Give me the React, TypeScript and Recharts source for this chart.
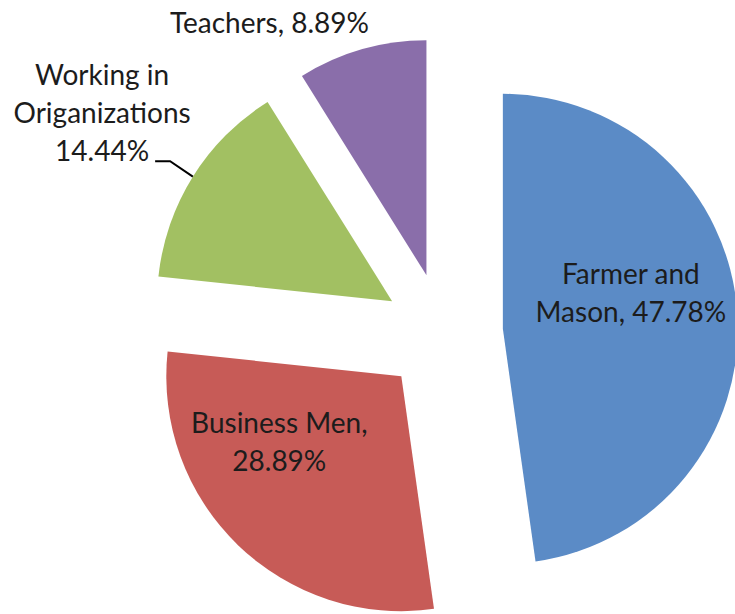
import { PieChart, Pie, Cell } from 'recharts';

const categories = ['Farmer and Mason', 'Business Men', 'Working in Organizations', 'Teachers'];
const shares = [47.78, 28.89, 14.44, 8.89];
const labelLines = [
  ['Farmer and', 'Mason, 47.78%'],
  ['Business Men,', '28.89%'],
  ['Working in', 'Origanizations', '14.44%'],
  ['Teachers, 8.89%'],
];
const colors = ['#5B8BC6', '#C75B57', '#A2C062', '#8A6EAA'];

const data = categories.map((name, i) => ({ name, value: shares[i] }));

const W = 735;
const H = 614;
const CX = 443;
const CY = 333;
const R = 235;
const EXPLODE = 60;
const RAD = Math.PI / 180;

// mid angle of each slice, recharts convention (start at 12 o'clock, clockwise)
const total = shares.reduce((a, b) => a + b, 0);
const midAngles = shares.map((v, i) => {
  const before = shares.slice(0, i).reduce((a, b) => a + b, 0);
  return 90 - ((before + v / 2) / total) * 360;
});

// label placement relative to each slice's own centre
const labelOffset = [
  { dx: 128, dy: -45 },
  { dx: -122, dy: 57 },
  { dx: -290, dy: -216 },
  { dx: -157, dy: -242 },
];
const LINE_H = 38;

const makeLabel = (slice: number) => (props: any) => {
  if (props.index !== slice) return null;
  const { cx, cy, outerRadius, midAngle } = props;
  const off = labelOffset[slice];
  const lines = labelLines[slice];
  const x = cx + off.dx;
  const y = cy + off.dy;
  let leader = null;
  if (slice === 2) {
    const ex = cx + outerRadius * Math.cos(-midAngle * RAD);
    const ey = cy + outerRadius * Math.sin(-midAngle * RAD);
    const ly = y + LINE_H * 2;
    leader = (
      <polyline
        points={`${x + 53},${ly} ${x + 68},${ly} ${ex},${ey}`}
        fill="none"
        stroke="#000"
        strokeWidth={2}
      />
    );
  }
  return (
    <g>
      {leader}
      <text
        x={x}
        y={y}
        textAnchor="middle"
        fill="#1c1c1c"
        fontFamily="Lato, 'Open Sans', sans-serif"
        fontSize={28}
      >
        {lines.map((t, k) => (
          <tspan key={k} x={x} y={y + k * LINE_H}>
            {t}
          </tspan>
        ))}
      </text>
    </g>
  );
};

export default function App() {
  return (
    <div style={{ position: 'absolute', left: 0, top: 0, background: '#fff' }}>
      <PieChart width={W} height={H} margin={{ top: 0, right: 0, bottom: 0, left: 0 }}>
        {midAngles.map((m, s) => (
          <Pie
            key={s}
            data={data}
            dataKey="value"
            nameKey="name"
            cx={CX + EXPLODE * Math.cos(m * RAD)}
            cy={CY - EXPLODE * Math.sin(m * RAD)}
            outerRadius={R}
            startAngle={90}
            endAngle={-270}
            stroke="none"
            isAnimationActive={false}
            labelLine={false}
            label={makeLabel(s)}
          >
            {data.map((_, i) => (
              <Cell key={i} fill={i === s ? colors[i] : 'none'} />
            ))}
          </Pie>
        ))}
      </PieChart>
    </div>
  );
}
